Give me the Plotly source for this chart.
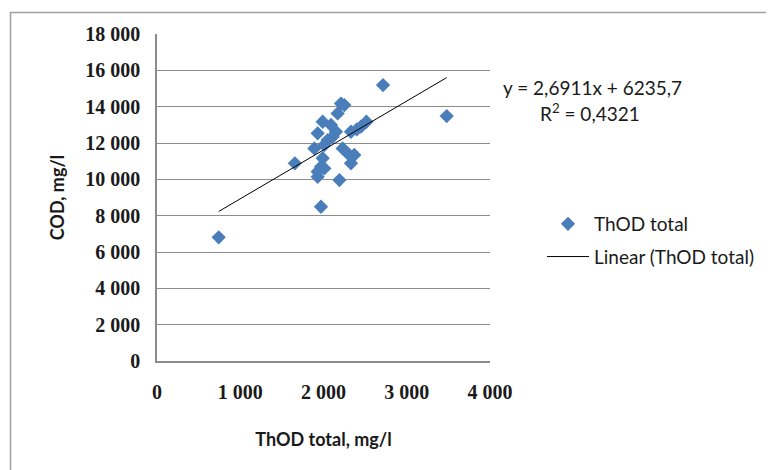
import plotly.graph_objects as go

# ---- data ----
thod_total = [741, 1656, 1970, 2191, 2715, 3480, 2210, 2250, 2170, 1990,
              2090, 1930, 2150, 2330, 2515, 2450, 1890, 2010, 2230, 2290,
              2370, 2330, 1990, 1970, 1930, 1930, 2010, 2110, 2050, 2400]
cod = [6810, 10880, 8490, 9960, 15190, 13480, 14170, 14090, 13630, 13170,
       12990, 12530, 12620, 12620, 13170, 12900, 11700, 11890, 11700, 11430,
       11340, 10880, 11160, 10690, 10420, 10140, 10600, 12340, 12160, 12750]

trend_slope = 2.6911
trend_intercept = 6235.7
r_squared = 0.4321

x_tickvals = [0, 1000, 2000, 3000, 4000]
x_ticktext = ["0", "1 000", "2 000", "3 000", "4 000"]
y_tickvals = [0, 2000, 4000, 6000, 8000, 10000, 12000, 14000, 16000, 18000]
y_ticktext = ["0", "2 000", "4 000", "6 000", "8 000", "10 000", "12 000",
              "14 000", "16 000", "18 000"]

OFF = 8  # page body margin
W, H = 774 - OFF, 470 - OFF
L, R, T, B = 157 - OFF, 490 - OFF, 34 - OFF, 361 - OFF


def xp(px):
    return (px - OFF - L) / (R - L)


def yp(py):
    return (B - (py - OFF)) / (B - T)


trend_x = [min(thod_total), max(thod_total)]
trend_y = [trend_slope * v + trend_intercept for v in trend_x]

fig = go.Figure()
fig.add_trace(go.Scatter(
    x=thod_total, y=cod, mode="markers", name="ThOD total",
    marker=dict(symbol="diamond", size=11, color="#4a7ebb"),
    legendgroup="a",
))
fig.add_trace(go.Scatter(
    x=trend_x, y=trend_y, mode="lines", name="Linear (ThOD total)",
    line=dict(color="#000000", width=1),
    legendgroup="b",
))

tickfont = dict(family="Liberation Serif", size=20, color="#1a1a1a", weight="bold")
titlefont = dict(family="Lato", size=18, color="#1a1a1a", weight="bold")
textfont = dict(family="Lato", size=19, color="#1a1a1a")

fig.update_layout(
    width=W, height=H,
    margin=dict(l=L, r=W - R, t=T, b=H - B, autoexpand=False),
    paper_bgcolor="white", plot_bgcolor="white",
    showlegend=True,
    legend=dict(
        x=xp(542), y=yp(205), xanchor="left", yanchor="top",
        font=textfont,
        itemwidth=42, traceorder="grouped", tracegroupgap=5,
        bgcolor="rgba(0,0,0,0)",
    ),
    xaxis=dict(
        range=[0, 4000], tickvals=x_tickvals, ticktext=x_ticktext,
        showgrid=False, zeroline=False, showline=True,
        linecolor="#8c8c8c", linewidth=1.5, ticks="",
        tickfont=tickfont, ticklabelstandoff=12,
        title=dict(text="ThOD total, mg/l", font=titlefont, standoff=32),
    ),
    yaxis=dict(
        range=[0, 18000], tickvals=y_tickvals, ticktext=y_ticktext,
        showgrid=True, gridcolor="#8c8c8c", gridwidth=1.2,
        zeroline=False, showline=True, linecolor="#8c8c8c", linewidth=1.5,
        ticks="", tickfont=tickfont, ticklabelstandoff=11,
        title=dict(text="COD, mg/l", font=titlefont, standoff=16),
    ),
    annotations=[
        dict(x=xp(592), y=yp(87), xref="paper", yref="paper",
             text="y = 2,6911x + 6235,7", showarrow=False,
             xanchor="center", yanchor="middle", font=textfont),
        dict(x=xp(590), y=yp(112), xref="paper", yref="paper",
             text="R<sup>2</sup> = 0,4321", showarrow=False,
             xanchor="center", yanchor="middle", font=textfont),
    ],
    shapes=[
        dict(type="rect", xref="paper", yref="paper",
             x0=xp(10.5), x1=xp(820), y0=yp(520), y1=yp(12.5),
             line=dict(color="#a0a0a0", width=1.5), layer="below"),
    ],
)

fig.write_html("out.html")
